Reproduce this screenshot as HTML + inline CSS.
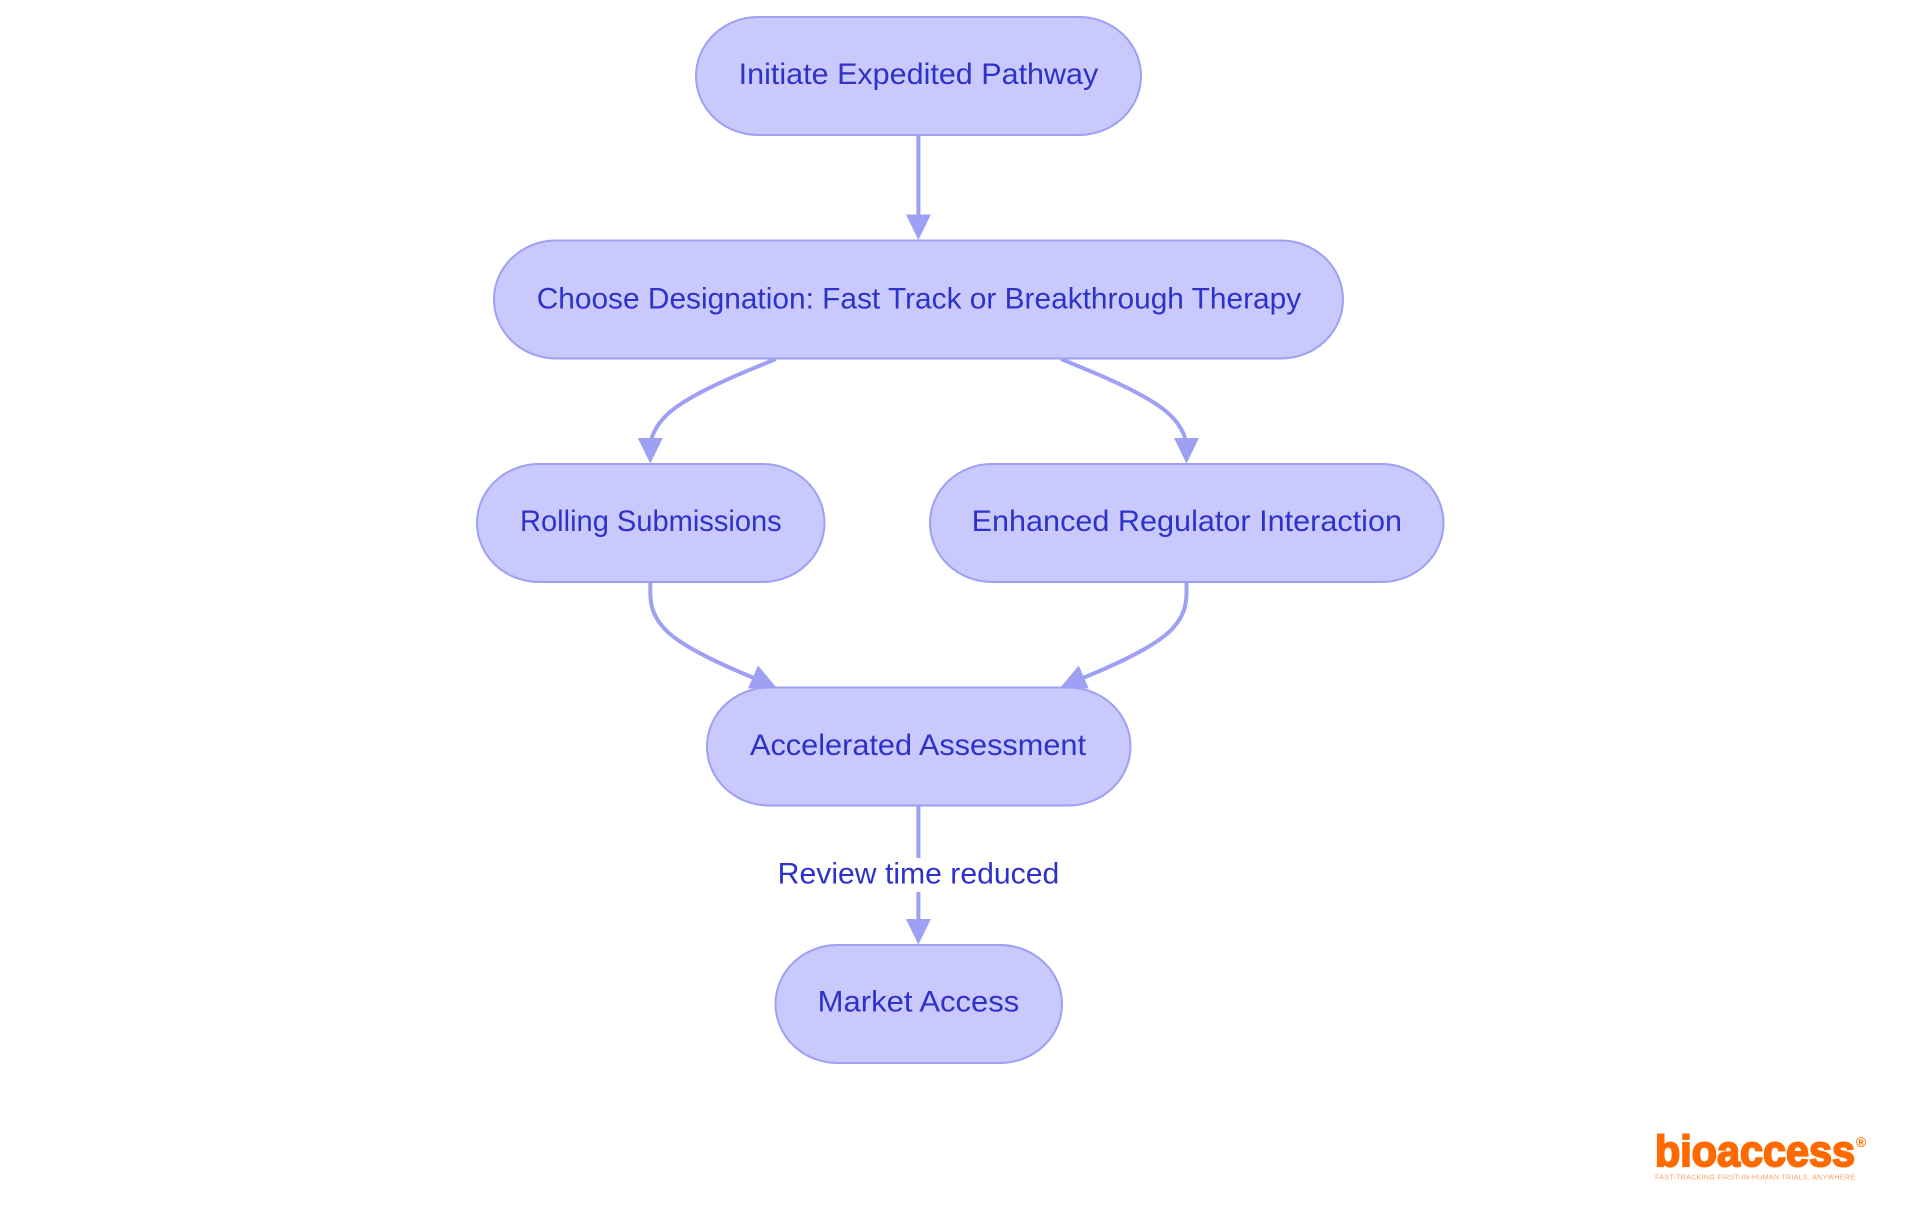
<!DOCTYPE html>
<html lang="en">
<head>
<meta charset="utf-8">
<title>Expedited Pathway Flowchart</title>
<style>
html,body{margin:0;padding:0;background:#fff;width:1920px;height:1215px;overflow:hidden}
svg{display:block}
.n{fill:#c9c9fd;stroke:#9da0f3;stroke-width:2}
.e{fill:none;stroke:#9da0f3;stroke-width:4}
.a{fill:#9da0f3}
.t{font-family:"Liberation Sans",sans-serif;font-size:30px;fill:#2e32c8}
</style>
</head>
<body>
<svg width="1920" height="1215" viewBox="0 0 1920 1215" xmlns="http://www.w3.org/2000/svg">
<rect width="1920" height="1215" fill="#fff"/>

<!-- edges -->
<path class="e" d="M918.4 135 V220"/>
<path class="a" d="M905.9 214.500 H930.900 L918.400 240 Z"/>

<path class="e" d="M775.800 359 L754.800 367.700 C733.800 376.300 692.100 393.700 671.200 411 C650.300 428.300 650.300 445.700 650.300 445"/>
<path class="a" d="M637.800 438 H662.800 L650.300 463.500 Z"/>

<path class="e" d="M1061 359 L1082 367.700 C1103 376.300 1144.700 393.700 1165.600 411 C1186.500 428.300 1186.500 445.700 1186.500 445"/>
<path class="a" d="M1174 438 H1199 L1186.500 463.500 Z"/>

<path class="e" d="M650.300 582 L650.300 591.700 C650.300 600.300 650.300 617.700 671.200 635 C692.200 652.300 733.800 669.700 754.700 678.300 L760 680.500"/>
<path class="a" d="M758 665.500 L776 687 L748 688.500 Z"/>

<path class="e" d="M1186.500 582 L1186.500 591.700 C1186.500 600.300 1186.500 617.700 1165.600 635 C1144.600 652.300 1103 669.700 1082.100 678.300 L1077 680.500"/>
<path class="a" d="M1078.800 665.500 L1060.800 687 L1088.800 688.500 Z"/>

<path class="e" d="M918.400 806 V925"/>
<path class="a" d="M905.900 919 H930.900 L918.400 944.500 Z"/>

<!-- nodes -->
<rect class="n" x="696" y="17" width="445" height="118" rx="62" ry="59.500"/>
<rect class="n" x="494" y="240.500" width="849" height="118" rx="62" ry="59.500"/>
<rect class="n" x="477" y="464" width="347.500" height="118" rx="62" ry="59.500"/>
<rect class="n" x="930" y="464" width="513.500" height="118" rx="62" ry="59.500"/>
<rect class="n" x="707" y="687.500" width="423.500" height="118" rx="62" ry="59.500"/>
<rect class="n" x="775.500" y="945" width="286.500" height="118" rx="62" ry="59.500"/>

<!-- node labels -->
<text class="t" x="738.700" y="84" textLength="359.600" lengthAdjust="spacingAndGlyphs">Initiate Expedited Pathway</text>
<text class="t" x="536.700" y="308.300" textLength="764.500" lengthAdjust="spacingAndGlyphs">Choose Designation: Fast Track or Breakthrough Therapy</text>
<text class="t" x="520" y="531" textLength="261.700" lengthAdjust="spacingAndGlyphs">Rolling Submissions</text>
<text class="t" x="971.600" y="531" textLength="430.400" lengthAdjust="spacingAndGlyphs">Enhanced Regulator Interaction</text>
<text class="t" x="750" y="755" textLength="336" lengthAdjust="spacingAndGlyphs">Accelerated Assessment</text>
<text class="t" x="817.700" y="1011.700" textLength="201.600" lengthAdjust="spacingAndGlyphs">Market Access</text>

<!-- edge label -->
<rect x="777" y="858" width="283" height="34" fill="#fff"/>
<text class="t" x="777.700" y="883.300" textLength="281.600" lengthAdjust="spacingAndGlyphs">Review time reduced</text>

<!-- logo -->
<text x="1655" y="1166" textLength="200" lengthAdjust="spacingAndGlyphs" style="font-family:'Liberation Sans',sans-serif;font-weight:700;font-size:44px;fill:#ff6a00;stroke:#ff6a00;stroke-width:2">bioaccess</text>
<text x="1861" y="1147" text-anchor="middle" style="font-family:'Liberation Sans',sans-serif;font-weight:700;font-size:14px;fill:#ff6a00">®</text>
<text x="1655" y="1179.300" textLength="200" lengthAdjust="spacing" style="font-family:'Liberation Sans',sans-serif;font-size:7px;fill:#ffa060">FAST-TRACKING FIRST-IN-HUMAN TRIALS, ANYWHERE</text>
</svg>
</body>
</html>
